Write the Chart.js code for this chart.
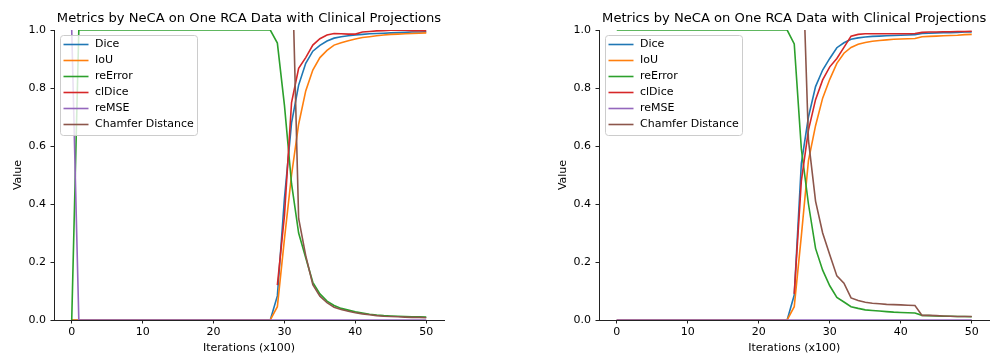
<!DOCTYPE html>
<html>
<head>
<meta charset="utf-8">
<title>Metrics by NeCA on One RCA Data with Clinical Projections</title>
<script src="https://cdn.jsdelivr.net/npm/chart.js@4.4.1/dist/chart.umd.min.js"></script>
<style>
    html, body { margin: 0; padding: 0; background: #fff; }
    body { width: 994px; height: 356px; position: relative; overflow: hidden; }
    canvas { position: absolute; top: 0; }
    #chartLeft { left: 0; }
    #chartRight { left: 545px; }
</style>
</head>
<body>
<canvas id="chartLeft" width="497" height="356"></canvas>
<canvas id="chartRight" width="449" height="356"></canvas>
<script>
// Shared axis data
const iterations = [0, 1, 2, 3, 4, 5, 6, 7, 8, 9, 10, 11, 12, 13, 14, 15, 16, 17, 18, 19, 20,
    21, 22, 23, 24, 25, 26, 27, 28, 29, 30, 31, 32, 33, 34, 35, 36, 37, 38, 39, 40,
    41, 42, 43, 44, 45, 46, 47, 48, 49, 50];
const xTicks = [0, 10, 20, 30, 40, 50];
const yTicks = [0, 0.2, 0.4, 0.6, 0.8, 1.0];
const chartTitle = 'Metrics by NeCA on One RCA Data with Clinical Projections';
const seriesNames = ['Dice', 'IoU', 'reError', 'clDice', 'reMSE', 'Chamfer Distance'];
const seriesColors = ['#1f77b4', '#ff7f0e', '#2ca02c', '#d62728', '#9467bd', '#8c564b'];

// Left panel (null = no value / above the axis)
const diceLeft = [0, 0, 0, 0, 0, 0, 0, 0, 0, 0, 0, 0, 0, 0, 0, 0, 0, 0, 0, 0, 0,
    0, 0, 0, 0, 0, 0, 0, 0, 0.083, 0.42, 0.68, 0.81, 0.885, 0.927, 0.947, 0.962, 0.972, 0.977, 0.980, 0.983,
    0.985, 0.987, 0.988, 0.989, 0.990, 0.991, 0.992, 0.993, 0.993, 0.994];
const iouLeft = [0, 0, 0, 0, 0, 0, 0, 0, 0, 0, 0, 0, 0, 0, 0, 0, 0, 0, 0, 0, 0,
    0, 0, 0, 0, 0, 0, 0, 0, 0.046, 0.28, 0.50, 0.675, 0.79, 0.862, 0.905, 0.930, 0.948, 0.956, 0.963, 0.969,
    0.974, 0.977, 0.980, 0.983, 0.985, 0.986, 0.987, 0.988, 0.989, 0.990];
const reErrorLeft = [0, 1, 1, 1, 1, 1, 1, 1, 1, 1, 1, 1, 1, 1, 1, 1, 1, 1, 1, 1, 1,
    1, 1, 1, 1, 1, 1, 1, 1, 0.955, 0.74, 0.47, 0.30, 0.215, 0.13, 0.09, 0.065, 0.05, 0.04, 0.034, 0.028,
    0.024, 0.020, 0.017, 0.015, 0.014, 0.013, 0.012, 0.011, 0.011, 0.010];
const clDiceLeft = [null, null, null, null, null, null, null, null, null, null, null, null, null, null, null, null, null, null, null, null, null,
    null, null, null, null, null, null, null, null, 0.12, 0.36, 0.75, 0.868, 0.905, 0.948, 0.970, 0.983, 0.988, 0.987, 0.986, 0.986,
    0.993, 0.995, 0.997, 0.998, 0.999, 0.999, 0.999, 0.998, 0.998, 0.998];
const reMseLeft = [1, 0, 0, 0, 0, 0, 0, 0, 0, 0, 0, 0, 0, 0, 0, 0, 0, 0, 0, 0, 0,
    0, 0, 0, 0, 0, 0, 0, 0, 0, 0, 0, 0, 0, 0, 0, 0, 0, 0, 0, 0,
    0, 0, 0, 0, 0, 0, 0, 0, 0, 0];
const chamferLeft = [null, null, null, null, null, null, null, null, null, null, null, null, null, null, null, null, null, null, null, null, null,
    null, null, null, null, null, null, null, null, null, null, 1.3, 0.35, 0.222, 0.122, 0.082, 0.06, 0.044, 0.036, 0.030, 0.025,
    0.021, 0.018, 0.015, 0.013, 0.012, 0.011, 0.010, 0.009, 0.009, 0.008];

// Right panel
const diceRight = [0, 0, 0, 0, 0, 0, 0, 0, 0, 0, 0, 0, 0, 0, 0, 0, 0, 0, 0, 0, 0,
    0, 0, 0, 0, 0.086, 0.54, 0.70, 0.805, 0.862, 0.902, 0.939, 0.956, 0.968, 0.973, 0.976, 0.978, 0.979, 0.980, 0.981, 0.982,
    0.983, 0.984, 0.988, 0.989, 0.990, 0.991, 0.991, 0.992, 0.993, 0.993];
const iouRight = [0, 0, 0, 0, 0, 0, 0, 0, 0, 0, 0, 0, 0, 0, 0, 0, 0, 0, 0, 0, 0,
    0, 0, 0, 0, 0.046, 0.29, 0.55, 0.67, 0.765, 0.83, 0.885, 0.92, 0.94, 0.951, 0.957, 0.961, 0.964, 0.966, 0.968, 0.969,
    0.970, 0.971, 0.977, 0.978, 0.979, 0.980, 0.981, 0.982, 0.984, 0.985];
const reErrorRight = [1, 1, 1, 1, 1, 1, 1, 1, 1, 1, 1, 1, 1, 1, 1, 1, 1, 1, 1, 1, 1,
    1, 1, 1, 1, 0.952, 0.59, 0.40, 0.247, 0.172, 0.118, 0.078, 0.062, 0.046, 0.040, 0.035, 0.033, 0.031, 0.029, 0.027, 0.026,
    0.025, 0.024, 0.016, 0.015, 0.014, 0.013, 0.013, 0.012, 0.012, 0.011];
const clDiceRight = [null, null, null, null, null, null, null, null, null, null, null, null, null, null, null, null, null, null, null, null, null,
    null, null, null, null, 0.09, 0.48, 0.655, 0.76, 0.828, 0.873, 0.902, 0.94, 0.979, 0.985, 0.987, 0.987, 0.987, 0.987, 0.987, 0.987,
    0.987, 0.988, 0.992, 0.993, 0.993, 0.994, 0.994, 0.995, 0.995, 0.996];
const reMseRight = [0, 0, 0, 0, 0, 0, 0, 0, 0, 0, 0, 0, 0, 0, 0, 0, 0, 0, 0, 0, 0,
    0, 0, 0, 0, 0, 0, 0, 0, 0, 0, 0, 0, 0, 0, 0, 0, 0, 0, 0, 0,
    0, 0, 0, 0, 0, 0, 0, 0, 0, 0];
const chamferRight = [null, null, null, null, null, null, null, null, null, null, null, null, null, null, null, null, null, null, null, null, null,
    null, null, null, null, null, 1.38, 0.62, 0.41, 0.30, 0.225, 0.152, 0.127, 0.076, 0.067, 0.061, 0.058, 0.056, 0.054, 0.053, 0.052,
    0.051, 0.050, 0.016, 0.016, 0.015, 0.014, 0.013, 0.012, 0.012, 0.012];

Chart.defaults.font.family = '"DejaVu Sans", sans-serif';
Chart.defaults.font.size = 11;
Chart.defaults.color = '#000';

// Legend box drawn inside the plot, top left (matplotlib style)
const insideLegend = {
    id: 'insideLegend',
    afterDatasetsDraw(chart) {
        const ctx = chart.ctx;
        const area = chart.chartArea;
        const x = Math.round(area.left + 5.5) + 0.5;
        const y = Math.round(area.top + 5) + 0.5;
        ctx.save();
        ctx.beginPath();
        ctx.roundRect(x, y, 137, 100, 3);
        ctx.fillStyle = 'rgba(255, 255, 255, 0.8)';
        ctx.fill();
        ctx.strokeStyle = '#cccccc';
        ctx.lineWidth = 1;
        ctx.stroke();
        ctx.font = '11px "DejaVu Sans"';
        ctx.textBaseline = 'middle';
        chart.data.datasets.forEach(function (ds, i) {
            const rowY = y + 9 + i * 16;
            ctx.strokeStyle = ds.borderColor;
            ctx.lineWidth = 1.6;
            ctx.beginPath();
            ctx.moveTo(x + 3, rowY);
            ctx.lineTo(x + 28, rowY);
            ctx.stroke();
            ctx.fillStyle = '#000';
            ctx.fillText(ds.label, x + 34.5, rowY);
        });
        ctx.restore();
    }
};

function buildChart(canvasId, series, rightPad) {
    const datasets = series.map(function (values, i) {
        return {
            label: seriesNames[i],
            data: values,
            borderColor: seriesColors[i],
            backgroundColor: seriesColors[i],
            borderWidth: 1.6,
            pointRadius: 0,
            tension: 0,
            order: series.length - i   // later series drawn on top
        };
    });

    const axisTick = {
        display: true,
        drawOnChartArea: false,
        drawTicks: true,
        tickLength: 3.5,
        tickColor: '#222',
        tickWidth: 1
    };

    return new Chart(document.getElementById(canvasId), {
        type: 'line',
        data: { labels: iterations, datasets: datasets },
        options: {
            responsive: false,
            animation: false,
            layout: { padding: { left: 0, right: rightPad, top: 0, bottom: 0 } },
            plugins: {
                legend: { display: false },
                tooltip: { enabled: false },
                title: {
                    display: true,
                    text: chartTitle,
                    fullSize: false,
                    color: '#000',
                    font: { size: 13.1, weight: 'normal' },
                    padding: { top: 11, bottom: 3.3 }
                }
            },
            scales: {
                x: {
                    type: 'linear',
                    min: -2.5,
                    max: 52.5,
                    afterBuildTicks: function (s) { s.ticks = xTicks.map(v => ({ value: v })); },
                    afterFit: function (s) { s.height = 36; },
                    ticks: { padding: 2, maxRotation: 0 },
                    grid: axisTick,
                    border: { display: true, color: '#222', width: 1 },
                    title: { display: true, text: 'Iterations (x100)', padding: { top: 0, bottom: 1.4 } }
                },
                y: {
                    min: 0,
                    max: 1,
                    afterBuildTicks: function (s) { s.ticks = yTicks.map(v => ({ value: v })); },
                    afterFit: function (s) { s.width = 54; },
                    ticks: { padding: 4.5, callback: v => v.toFixed(1) },
                    grid: axisTick,
                    border: { display: true, color: '#222', width: 1 },
                    title: { display: true, text: 'Value', padding: { top: 11.4, bottom: 0 } }
                }
            }
        },
        plugins: [insideLegend]
    });
}

document.addEventListener('DOMContentLoaded', function () {
    buildChart('chartLeft', [diceLeft, iouLeft, reErrorLeft, clDiceLeft, reMseLeft, chamferLeft], 53);
    buildChart('chartRight', [diceRight, iouRight, reErrorRight, clDiceRight, reMseRight, chamferRight], 4.5);
});
</script>
</body>
</html>
